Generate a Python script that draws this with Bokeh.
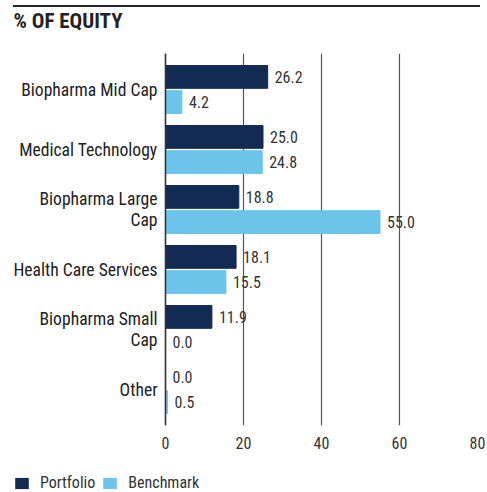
from bokeh.plotting import figure
from bokeh.layouts import column
from bokeh.models import (ColumnDataSource, Range1d, FixedTicker, Label, Legend, LegendItem,
                          Div, Span)
from bokeh.core.properties import value
from bokeh.embed import file_html
from bokeh.resources import INLINE

categories = ["Biopharma Mid Cap", "Medical Technology", "Biopharma Large\nCap",
              "Health Care Services", "Biopharma Small\nCap", "Other"]
portfolio = [26.2, 25.0, 18.8, 18.1, 11.9, 0.0]
benchmark = [4.2, 24.8, 55.0, 15.5, 0.0, 0.5]
x_ticks = [0, 20, 40, 60, 80]
series_names = ["Portfolio", "Benchmark"]
title_text = "% OF EQUITY"

FONT = "'Roboto Condensed', 'Liberation Sans Narrow', 'DejaVu Sans Condensed', sans-serif"
NAVY = "#132B52"
LIGHT = "#6CC4EA"
DARK = "#222222"

idx = list(range(len(categories)))
src_p = ColumnDataSource(dict(y=[i - 0.21 for i in idx], v=portfolio,
                              lab=[f"{v:.1f}" for v in portfolio]))
src_b = ColumnDataSource(dict(y=[i + 0.21 for i in idx], v=benchmark,
                              lab=[f"{v:.1f}" for v in benchmark]))
src_c = ColumnDataSource(dict(y=idx, x=[0] * len(idx), cat=categories))

W = 487
BL, BR = 6, 10


def strip(height):
    f = figure(width=W, height=height, output_backend="svg", toolbar_location=None,
               min_border_left=BL, min_border_right=BR, min_border_top=0,
               min_border_bottom=0, x_range=Range1d(0, 1), y_range=Range1d(0, 1))
    f.axis.visible = False
    f.grid.visible = False
    f.outline_line_color = None
    return f


# thin rule at the top
rule = Div(text="", width=467, height=2, margin=(5, 0, 0, 13),
           styles={"background-color": DARK})

# title strip
tfig = strip(33)
tfig.add_layout(Label(x=13 - BL, y=20, x_units="screen", y_units="screen", text=title_text,
                      text_font=FONT, text_font_size="21px", text_font_style="bold",
                      text_color=DARK, text_baseline="middle"))

# main chart: frame spans from near the left edge to x=80; value 0 sits at page x 165
H = 424
x_start = -(165 - BL) / ((477 - 165) / 80)
p = figure(width=W, height=H, output_backend="svg", toolbar_location=None,
           x_range=Range1d(x_start, 80), y_range=Range1d(5.6, -0.6),
           min_border_left=BL, min_border_right=BR, min_border_top=13,
           min_border_bottom=39)
p.outline_line_color = None

p.hbar(y="y", right="v", left=0, height=0.38, color=NAVY, source=src_p)
p.hbar(y="y", right="v", left=0, height=0.38, color=LIGHT, source=src_b)

for src in (src_p, src_b):
    p.text(x="v", y="y", text="lab", source=src, x_offset=7, text_baseline="middle",
           text_align="left", text_font=value(FONT), text_font_size="16px",
           text_color="#333333")

# category labels, right-aligned against the value axis at 0
p.text(x="x", y="y", text="cat", source=src_c, x_offset=-8, text_align="right",
       text_baseline="middle", text_font=value(FONT), text_font_size="17.6px",
       text_color=DARK, text_line_height=1.08)

# vertical axis line at 0
p.add_layout(Span(location=0, dimension="height", line_color="#333333", line_width=1.5))

p.xaxis.ticker = FixedTicker(ticks=x_ticks)
p.xaxis.axis_line_color = None
p.xaxis.major_tick_line_color = None
p.xaxis.minor_tick_line_color = None
p.xaxis.major_label_text_font = FONT
p.xaxis.major_label_text_font_size = "16px"
p.xaxis.major_label_text_color = "#333333"
p.xaxis.major_label_standoff = 5
p.yaxis.visible = False

p.xgrid.ticker = FixedTicker(ticks=x_ticks)
p.xgrid.grid_line_color = "#555555"
p.xgrid.grid_line_width = 1.2
p.ygrid.grid_line_color = None

# legend strip
lg = strip(28)
r1 = lg.hbar(y=[0.5], left=[0], right=[0], height=0, fill_color=NAVY, line_color=None)
r2 = lg.hbar(y=[0.5], left=[0], right=[0], height=0, fill_color=LIGHT, line_color=None)
legend = Legend(items=[LegendItem(label=series_names[0], renderers=[r1]),
                       LegendItem(label=series_names[1], renderers=[r2])],
                orientation="horizontal", location=(13 - BL, 0),
                label_text_font=FONT, label_text_font_size="16px",
                label_text_color="#333333", glyph_width=17, glyph_height=14,
                label_standoff=10, spacing=6, padding=0, margin=0,
                border_line_color=None, background_fill_alpha=0)
lg.add_layout(legend, "center")

layout = column(rule, tfig, p, lg, spacing=0)
open("out.html", "w").write(file_html(layout, INLINE))
